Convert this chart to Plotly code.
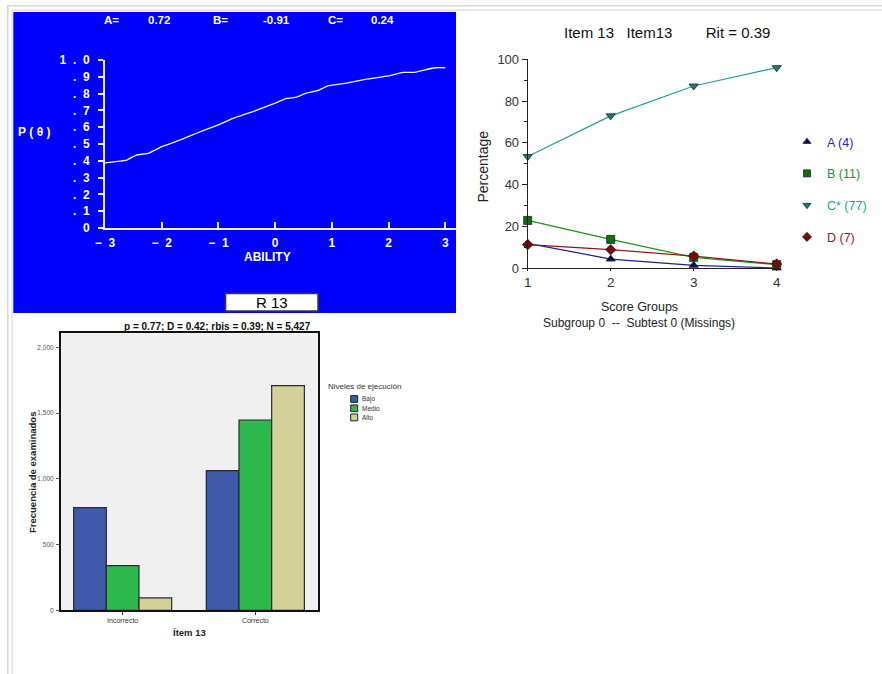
import plotly.graph_objects as go

W, H = 882, 674


def px(x):
    return x / W


def py(y):
    return 1 - y / H


# ---------------- Panel 1: item characteristic curve (blue) ----------------
irt_labels = ["A=", "0.72", "B=", "-0.91", "C=", "0.24"]
theta = [-3.0, -2.62, -2.45, -2.24, -2.0, -1.8, -1.5, -1.27, -1.0, -0.74, -0.39,
         0.0, 0.2, 0.38, 0.55, 0.76, 0.94, 1.26, 1.61, 2.0, 2.26, 2.46, 2.73, 2.84, 3.0]
p_theta = [0.388, 0.404, 0.434, 0.444, 0.484, 0.508, 0.548, 0.58, 0.614, 0.653, 0.693,
           0.743, 0.771, 0.779, 0.803, 0.819, 0.847, 0.863, 0.886, 0.906, 0.926, 0.926,
           0.948, 0.954, 0.954]
irt_yticks = [0, 0.1, 0.2, 0.3, 0.4, 0.5, 0.6, 0.7, 0.8, 0.9, 1.0]
irt_yticktext = ["0", ".\u00a0\u00a01", ".\u00a0\u00a02", ".\u00a0\u00a03", ".\u00a0\u00a04",
                 ".\u00a0\u00a05", ".\u00a0\u00a06", ".\u00a0\u00a07", ".\u00a0\u00a08",
                 ".\u00a0\u00a09", "1\u00a0\u00a0.\u00a0\u00a00"]
irt_xticks = [-3, -2, -1, 0, 1, 2, 3]
irt_xticktext = ["\u2212\u00a0\u00a03", "\u2212\u00a0\u00a02", "\u2212\u00a0\u00a01", "0", "1", "2", "3"]

# ---------------- Panel 2: option curves ----------------
score_groups = [1, 2, 3, 4]
option_names = ["A (4)", "B (11)", "C* (77)", "D (7)"]
opt_A = [11.8, 4.3, 1.3, 0.0]
opt_B = [22.8, 13.7, 5.1, 1.6]
opt_C = [53.4, 72.9, 87.2, 96.0]
opt_D = [11.2, 8.8, 5.7, 1.9]
option_values = [opt_A, opt_B, opt_C, opt_D]
option_line_colors = ["#1f1f8f", "#1a961a", "#2a9a9a", "#8b1a1a"]
option_marker_colors = ["#0c0c5a", "#0d700d", "#1c7a7a", "#7a0a0a"]
option_text_colors = ["#2b2ba0", "#1a961a", "#2aa0a0", "#8b1a1a"]
option_symbols = ["triangle-up", "square", "triangle-down", "diamond"]

# ---------------- Panel 3: bar chart ----------------
answers = ["Incorrecto", "Correcto"]
levels = ["Bajo", "Medio", "Alto"]
freq_bajo = [780, 1062]
freq_medio = [339, 1447]
freq_alto = [94, 1708]
level_values = [freq_bajo, freq_medio, freq_alto]
level_colors = ["#3e58aa", "#2db84b", "#d4d09a"]
bar_yticks = [0, 500, 1000, 1500, 2000]
bar_yticktext = ["0", "500", "1,000", "1,500", "2,000"]

fig = go.Figure()

# Panel 1 trace
fig.add_trace(go.Scatter(x=theta, y=p_theta, mode="lines",
                         line=dict(color="#f4f4ff", width=1.3, shape="spline", smoothing=0.3),
                         xaxis="x", yaxis="y", showlegend=False, hoverinfo="skip"))

# Panel 2 traces
for name, vals, lc, mc, sym in zip(option_names, option_values, option_line_colors,
                                   option_marker_colors, option_symbols):
    fig.add_trace(go.Scatter(x=score_groups, y=vals, mode="lines+markers",
                             line=dict(color=lc, width=1.2),
                             marker=dict(symbol=sym, size=8, color=mc,
                                         line=dict(color="#202020", width=0.8)),
                             xaxis="x2", yaxis="y2", showlegend=False, cliponaxis=False))
for name, mc, tc, sym in zip(option_names, option_marker_colors, option_text_colors, option_symbols):
    fig.add_trace(go.Scatter(x=[None], y=[None], mode="markers",
                             name=f"<span style='color:{tc}'>{name}</span>",
                             legendgroup=name,
                             marker=dict(symbol=sym, size=7, color=mc,
                                         line=dict(color="#202020", width=0.8)),
                             xaxis="x2", yaxis="y2", showlegend=True, legend="legend"))

# Panel 3 traces
for lvl, vals, col in zip(levels, level_values, level_colors):
    fig.add_trace(go.Bar(x=answers, y=vals, name=lvl,
                         marker=dict(color=col, line=dict(color="#2a2a2a", width=1.2)),
                         xaxis="x3", yaxis="y3", showlegend=False))

font_main = "Liberation Sans, Arial, sans-serif"

shapes = []
annotations = []


def note(text, x, y, size, color, xanchor="center", yanchor="middle", bold=False, angle=0):
    f = dict(family=font_main, size=size, color=color)
    if bold:
        f["weight"] = "bold"
    annotations.append(dict(text=text, xref="paper", yref="paper", x=px(x), y=py(y),
                            xanchor=xanchor, yanchor=yanchor, showarrow=False,
                            textangle=angle, font=f))


# page frame lines
frame_col = "#d6d6d6"
shapes += [
    dict(type="line", xref="paper", yref="paper", x0=px(7.5), x1=px(882), y0=py(5.8), y1=py(5.8),
         line=dict(color=frame_col, width=1.6)),
    dict(type="line", xref="paper", yref="paper", x0=px(7.8), x1=px(7.8), y0=py(5), y1=py(674),
         line=dict(color=frame_col, width=1.5)),
    dict(type="line", xref="paper", yref="paper", x0=px(12), x1=px(882), y0=py(10.3), y1=py(10.3),
         line=dict(color="#e0e0e0", width=1.4)),
    dict(type="line", xref="paper", yref="paper", x0=px(12), x1=px(12), y0=py(10), y1=py(674),
         line=dict(color="#e0e0e0", width=1.4)),
]

# blue panel background
shapes.append(dict(type="rect", xref="paper", yref="paper", x0=px(13.3), x1=px(456), y0=py(313), y1=py(12),
                   fillcolor="#0000fe", line=dict(width=0), layer="below"))
# R 13 box
shapes.append(dict(type="rect", xref="paper", yref="paper", x0=px(225.5), x1=px(318), y0=py(311), y1=py(293.5),
                   fillcolor="#ffffff", line=dict(color="#3a3a3a", width=1.5), layer="above"))
note("R 13", 272, 302.5, 15, "#000000")

# blue panel labels
label_x = [102, 146, 211, 261, 326, 369]
for t, lx in zip(irt_labels, label_x):
    note(t, lx, 20, 11.5, "white", xanchor="left", bold=True)
note("P\u00a0(\u00a0\u03b8\u00a0)", 15.5, 132.5, 12, "white", xanchor="left", bold=True)
note("ABILITY", 267.5, 256.5, 12, "white", bold=True)

# bar panel background
shapes.append(dict(type="rect", xref="paper", yref="paper", x0=px(60.7), x1=px(317.7), y0=py(610.3), y1=py(333.3),
                   fillcolor="#f0f0f0", line=dict(width=0), layer="below"))

# right panel labels
note("Item 13\u00a0\u00a0\u00a0Item13\u00a0\u00a0\u00a0\u00a0\u00a0\u00a0\u00a0\u00a0Rit = 0.39",
     667, 32.5, 15, "#111111")
note("Percentage", 482.5, 166, 14, "#222222", angle=-90)
note("Score Groups", 639.5, 306.5, 12.5, "#222222")
note("Subgroup 0\u00a0\u00a0--\u00a0\u00a0Subtest 0 (Missings)", 638.5, 322.5, 12, "#222222")

# bar panel labels
note("p = 0.77; D = 0.42; rbis = 0.39; N = 5,427", 217.2, 326.3, 10, "#111111", bold=True)
note("Frecuencia de examinados", 32, 473, 9.5, "#222222", bold=True, angle=-90)
note("\u00cdtem 13", 189, 632.7, 9.5, "#222222", bold=True)
note("Niveles de ejecuci\u00f3n", 326, 386.7, 8, "#333333", xanchor="left")
leg_y = [399, 408.3, 417.4]
for lvl, col, ly in zip(levels, level_colors, leg_y):
    shapes.append(dict(type="rect", xref="paper", yref="paper", x0=px(350.7), x1=px(357.7),
                       y0=py(ly + 3.4), y1=py(ly - 3.4), fillcolor=col,
                       line=dict(color="#222222", width=1)))
    note(lvl, 359.5, ly, 6.5, "#333333", xanchor="left")

fig.update_layout(
    template="none",
    width=W, height=H, margin=dict(l=0, r=0, t=0, b=0, pad=0, autoexpand=False),
    paper_bgcolor="white", plot_bgcolor="rgba(0,0,0,0)",
    font=dict(family=font_main),
    shapes=shapes, annotations=annotations,
    barmode="group", bargap=0.261, bargroupgap=0,
    showlegend=True,
    legend=dict(x=px(787), y=py(127), xanchor="left", yanchor="top", bgcolor="rgba(0,0,0,0)",
                font=dict(family=font_main, size=12.5), tracegroupgap=12.5, itemwidth=30),
    # blue panel axes
    xaxis=dict(domain=[px(105), px(456)], range=[-3, 3.19], anchor="y", automargin=False,
               tickmode="array", tickvals=irt_xticks, ticktext=irt_xticktext,
               showline=True, linecolor="#f0f0ff", linewidth=2, showgrid=False, zeroline=False,
               ticks="inside", ticklen=6, tickcolor="#f0f0ff", tickwidth=1.5,
               tickfont=dict(family=font_main, size=12, color="white", weight="bold"),
               ticklabelstandoff=3, fixedrange=True),
    yaxis=dict(domain=[py(228), py(60)], range=[0, 1.0], anchor="x", automargin=False,
               tickmode="array", tickvals=irt_yticks, ticktext=irt_yticktext,
               showline=True, linecolor="#f0f0ff", linewidth=2, showgrid=False, zeroline=False,
               ticks="outside", ticklen=5, tickcolor="#f0f0ff", tickwidth=1.5,
               tickfont=dict(family=font_main, size=12, color="white", weight="bold"),
               ticklabelstandoff=6, fixedrange=True),
    # right panel axes
    xaxis2=dict(domain=[px(527.7), px(776.7)], range=[1, 4], anchor="y2", automargin=False,
                tickmode="array", tickvals=score_groups, showline=True, linecolor="#222222", linewidth=1,
                showgrid=False, zeroline=False, ticks="outside", ticklen=2, tickcolor="#222222",
                tickfont=dict(family=font_main, size=13.5, color="#333333"), ticklabelstandoff=0),
    yaxis2=dict(domain=[py(268), py(59.3)], range=[0, 100], anchor="x2", automargin=False,
                tickmode="linear", tick0=0, dtick=20, showline=True, linecolor="#222222", linewidth=1,
                showgrid=False, zeroline=False, ticks="outside", ticklen=5, tickcolor="#222222",
                minor=dict(dtick=10, ticks="outside", ticklen=3, tickcolor="#222222", showgrid=False),
                tickfont=dict(family=font_main, size=13, color="#333333"), ticklabelstandoff=0),
    # bar panel axes
    xaxis3=dict(domain=[px(60.7), px(317.7)], range=[-0.467, 1.470], anchor="y3", automargin=False,
                showline=True, linecolor="#111111", linewidth=1.5, mirror=True, showgrid=False,
                ticks="outside", ticklen=3, tickcolor="#333333",
                tickfont=dict(family=font_main, size=7, color="#333333")),
    yaxis3=dict(domain=[py(610.3), py(333.3)], range=[0, 2106], anchor="x3", automargin=False,
                tickmode="array", tickvals=bar_yticks, ticktext=bar_yticktext,
                showline=True, linecolor="#111111", linewidth=1.5, mirror=True, showgrid=False,
                zeroline=False, ticks="outside", ticklen=3, tickcolor="#555555",
                tickfont=dict(family=font_main, size=6.5, color="#555555"), ticklabelstandoff=1),
)

fig.write_html("out.html", config={"displayModeBar": False},
               post_script="document.body.style.margin='0';")
